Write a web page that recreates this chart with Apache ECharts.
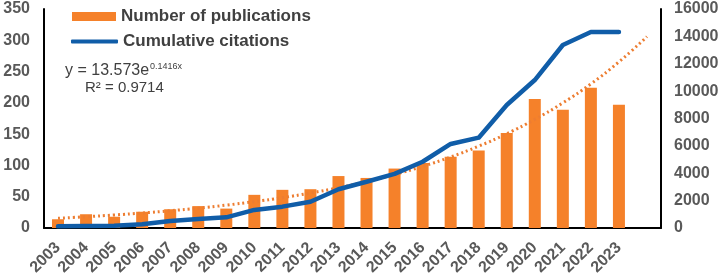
<!DOCTYPE html>
<html>
<head>
<meta charset="utf-8">
<title>Publications and citations</title>
<script src="https://cdn.jsdelivr.net/npm/echarts@6/dist/echarts.min.js"></script>
<style>
    html, body { margin: 0; padding: 0; background: #fff; }
    #main { width: 724px; height: 277px; }
</style>
</head>
<body>
<div id="main"></div>
<script>
// categories (last slot is the empty forecast year of the trend line)
var years = ['2003', '2004', '2005', '2006', '2007', '2008', '2009', '2010', '2011', '2012', '2013',
    '2014', '2015', '2016', '2017', '2018', '2019', '2020', '2021', '2022', '2023', ''];

// Number of publications (left axis)
var publications = [14, 22, 18, 26, 30, 35, 31, 53, 61, 62, 83, 80, 95, 104, 114, 124, 152, 206, 189, 224, 197];

// Cumulative citations (right axis)
var citations = [120, 150, 170, 270, 510, 660, 780, 1320, 1560, 1920, 2830, 3380, 3950, 4840, 6140, 6600,
    8990, 10810, 13370, 14320, 14320];

// exponential trend line
var trend = [15.6, 18.0, 20.8, 23.9, 27.6, 31.7, 36.6, 42.1, 48.5, 55.9, 64.4, 74.2, 85.5, 98.5, 113.5,
    130.8, 150.7, 173.6, 200.0, 230.4, 265.5, 305.9];

var leftTicks = [0, 350, 50];
var rightTicks = [0, 16000, 2000];

var font = "'Liberation Sans', Arial, sans-serif";
var labelColor = '#595959';
var textColor = '#404040';

var chartDom = document.getElementById('main');
var myChart = echarts.init(chartDom);
var option;

option = {
    animation: false,
    textStyle: { fontFamily: font },
    grid: { left: 44, right: 63, top: 9, bottom: 49, outerBoundsMode: 'none' },
    legend: [
        {
            left: 72,
            top: 8,
            padding: 0,
            itemWidth: 44,
            itemHeight: 9,
            icon: 'rect',
            data: ['Number of publications'],
            textStyle: { fontSize: 17, fontWeight: 'bold', color: textColor, fontFamily: font }
        },
        {
            left: 71,
            top: 33,
            padding: 0,
            itemWidth: 47,
            itemHeight: 4,
            icon: 'roundRect',
            data: ['Cumulative citations'],
            textStyle: { fontSize: 17, fontWeight: 'bold', color: textColor, fontFamily: font }
        }
    ],
    graphic: [
        {
            type: 'text', left: 65, top: 63,
            style: { text: 'y = 13.573e', fontSize: 16, fill: textColor, fontFamily: font }
        },
        {
            type: 'text', left: 150, top: 62,
            style: { text: '0.1416x', fontSize: 9, fill: textColor, fontFamily: font }
        },
        {
            type: 'text', left: 85, top: 80,
            style: { text: 'R\u00b2 = 0.9714', fontSize: 15, fill: textColor, fontFamily: font }
        }
    ],
    xAxis: [
        {
            type: 'category',
            data: years,
            axisLine: { lineStyle: { color: '#000', width: 2 } },
            axisTick: { show: false },
            axisLabel: {
                interval: 0,
                rotate: 45,
                margin: 17,
                fontSize: 16,
                fontWeight: 'bold',
                color: labelColor,
                fontFamily: font
            }
        }
    ],
    yAxis: [
        {
            type: 'value',
            min: leftTicks[0],
            max: leftTicks[1],
            interval: leftTicks[2],
            axisLine: { show: true, lineStyle: { color: '#000', width: 2 } },
            axisTick: { show: false },
            splitLine: { show: false },
            axisLabel: { fontSize: 16, fontWeight: 'bold', color: labelColor, margin: 14, fontFamily: font }
        },
        {
            type: 'value',
            min: rightTicks[0],
            max: rightTicks[1],
            interval: rightTicks[2],
            position: 'right',
            axisLine: { show: true, lineStyle: { color: '#000', width: 2 } },
            axisTick: { show: false },
            splitLine: { show: false },
            axisLabel: {
                fontSize: 16, fontWeight: 'bold', color: labelColor, margin: 13, fontFamily: font,
                formatter: function (v) { return String(v); }
            }
        }
    ],
    series: [
        {
            name: 'Number of publications',
            type: 'bar',
            barWidth: 12,
            itemStyle: { color: '#F5812A' },
            data: publications
        },
        {
            name: 'trend',
            type: 'line',
            smooth: true,
            symbol: 'none',
            lineStyle: { color: '#ED7D31', width: 3, type: [2, 3] },
            data: trend
        },
        {
            name: 'Cumulative citations',
            type: 'line',
            yAxisIndex: 1,
            symbol: 'none',
            itemStyle: { color: '#105DA8' },
            lineStyle: { color: '#105DA8', width: 4.5, cap: 'round', join: 'round' },
            data: citations
        }
    ]
};
option && myChart.setOption(option);
</script>
</body>
</html>
